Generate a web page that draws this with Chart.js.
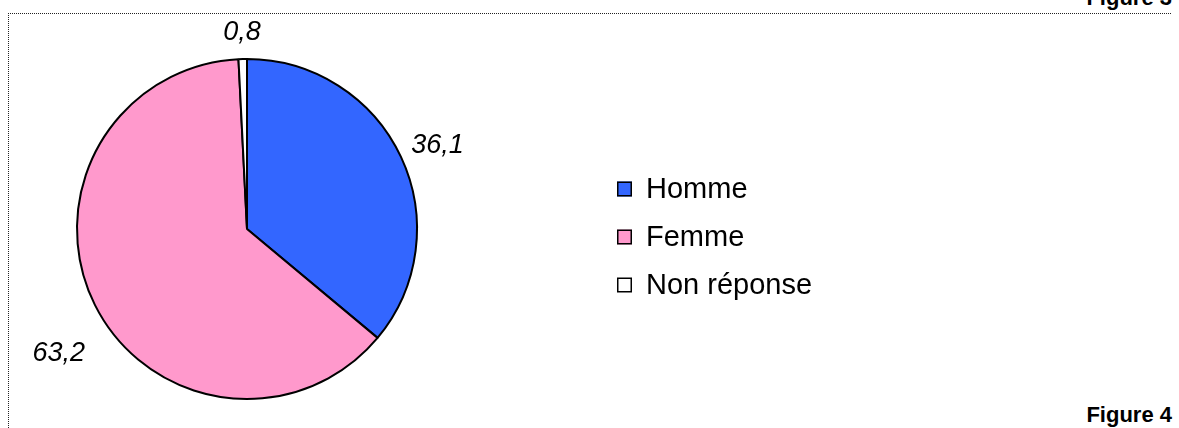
<!DOCTYPE html>
<html>
<head>
<meta charset="utf-8">
<script src="https://cdn.jsdelivr.net/npm/chart.js@4/dist/chart.umd.min.js"></script>
<style>
  body { margin: 0; background: #fff; }
  #wrap { position: relative; width: 1179px; height: 428px; overflow: hidden; }
  #frame { position: absolute; left: 8px; top: 13px; width: 1162px; height: 430px;
           border-top: 1px dotted #222; border-left: 1px dotted #222; }
  .fig { position: absolute; right: 7px; font: bold 22px "Liberation Sans", Arial, sans-serif;
         line-height: 25px; color: #000; }
</style>
</head>
<body>
<div id="wrap">
  <div id="frame"></div>
  <div class="fig" style="top:-15px;">Figure 3</div>
  <div class="fig" style="top:402px;">Figure 4</div>
  <canvas id="pie" width="1179" height="428" style="position:absolute;left:0;top:0;"></canvas>
</div>
<script>
const categories = ['Homme', 'Femme', 'Non réponse'];
const percents = [36.1, 63.2, 0.8];
const sliceColors = ['#3366FF', '#FF99CC', '#FFFFFF'];

const fmt = v => v.toFixed(1).replace('.', ',');

// value labels outside each slice
const sliceLabels = {
  id: 'sliceLabels',
  afterDatasetsDraw(chart) {
    const ctx = chart.ctx;
    const arcs = chart.getDatasetMeta(0).data;
    ctx.save();
    ctx.font = 'italic 27px "Liberation Sans", Arial, sans-serif';
    ctx.fillStyle = '#000';
    ctx.textAlign = 'center';
    ctx.textBaseline = 'middle';
    arcs.forEach((arc, i) => {
      const p = arc.getProps(['x', 'y', 'startAngle', 'endAngle', 'outerRadius'], true);
      const mid = (p.startAngle + p.endAngle) / 2;
      const dx = Math.cos(mid), dy = Math.sin(mid);
      const txt = fmt(percents[i]);
      const w = ctx.measureText(txt).width, h = 26;
      const r = p.outerRadius + 14;
      const cx = p.x + dx * r + dx * w / 2;
      let cy = p.y + dy * r + dy * h / 2;
      if (dy > 0.3) cy += h * 1.4; // lower labels sit further down
      ctx.fillText(txt, cx, cy);
    });
    ctx.restore();
  }
};

// legend drawn at the right of the pie
const sideLegend = {
  id: 'sideLegend',
  afterDraw(chart) {
    const ctx = chart.ctx;
    const x0 = 617, y0 = 189, gap = 48, box = 15;
    ctx.save();
    ctx.font = '29px "Liberation Sans", Arial, sans-serif';
    ctx.textBaseline = 'middle';
    ctx.textAlign = 'left';
    chart.data.labels.forEach((lab, i) => {
      const y = y0 + i * gap;
      ctx.fillStyle = chart.data.datasets[0].backgroundColor[i];
      ctx.fillRect(x0, y - box / 2, box, box);
      ctx.strokeStyle = '#000';
      ctx.lineWidth = 1.5;
      ctx.strokeRect(x0 + 0.75, y - box / 2 + 0.75, box - 1.5, box - 1.5);
      ctx.fillStyle = '#000';
      ctx.fillText(lab, x0 + 29, y + 1);
    });
    ctx.restore();
  }
};

new Chart(document.getElementById('pie'), {
  type: 'pie',
  data: {
    labels: categories,
    datasets: [{
      data: percents,
      backgroundColor: sliceColors,
      borderColor: '#000',
      borderWidth: 2
    }]
  },
  options: {
    responsive: false,
    animation: false,
    layout: { padding: { left: 76, top: 58, right: 761, bottom: 28 } },
    plugins: { legend: { display: false }, tooltip: { enabled: false } }
  },
  plugins: [sliceLabels, sideLegend]
});
</script>
</body>
</html>
